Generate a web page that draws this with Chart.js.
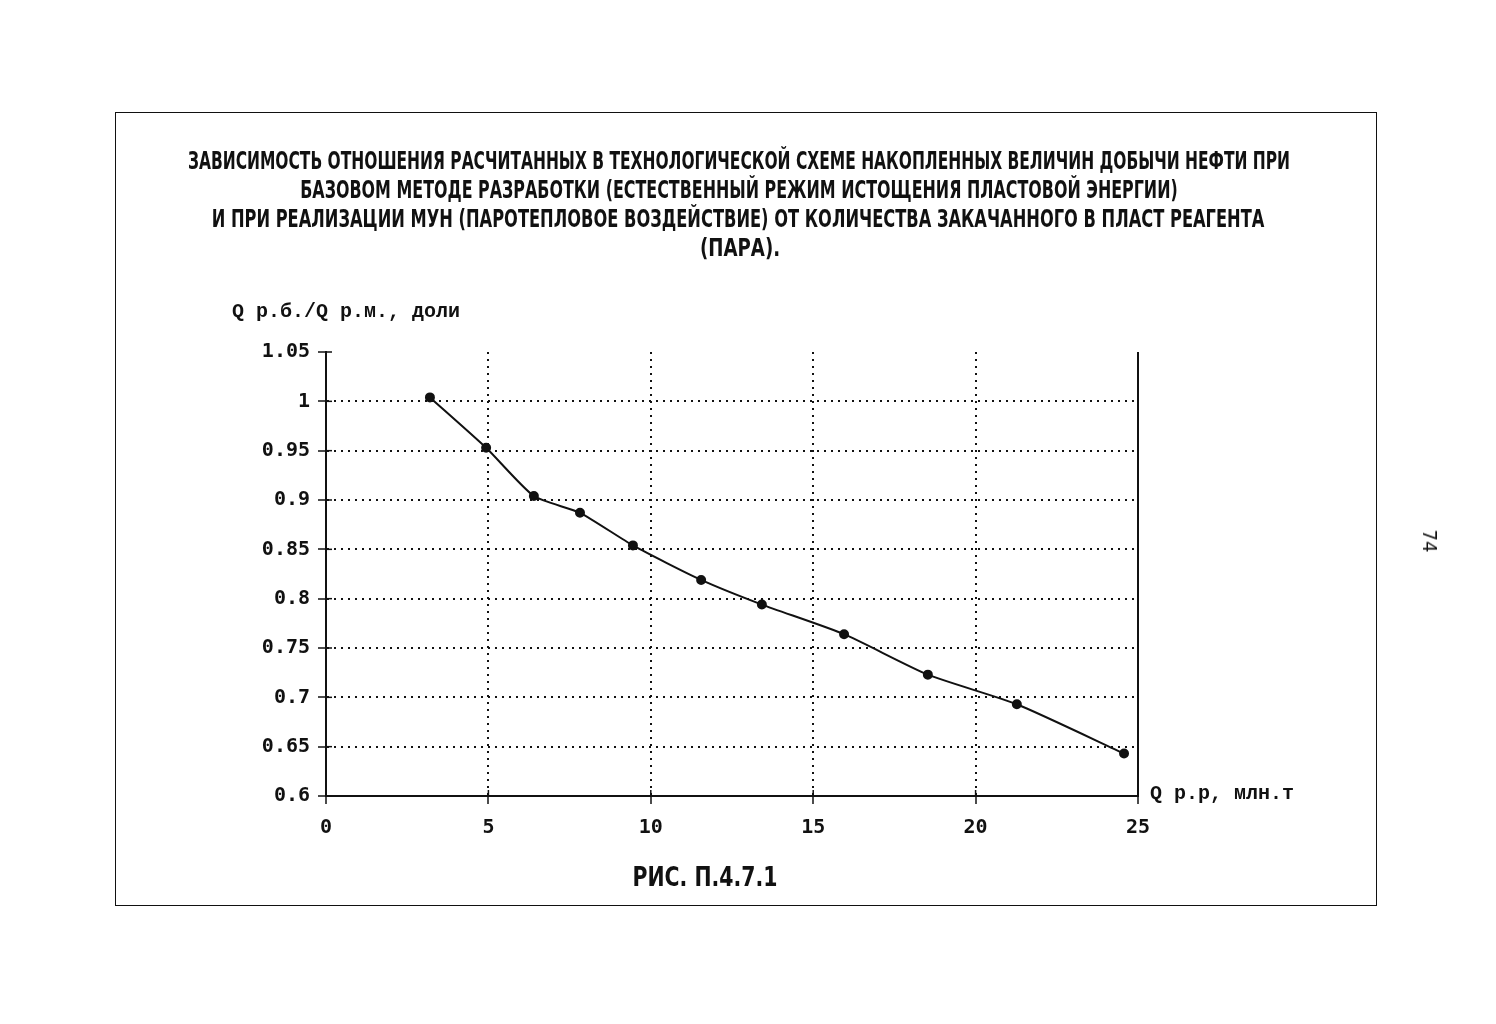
<!DOCTYPE html>
<html>
<head>
<meta charset="utf-8">
<script src="https://cdn.jsdelivr.net/npm/chart.js@4/dist/chart.umd.min.js"></script>
<style>
  html, body { margin: 0; padding: 0; background: #fff; overflow: hidden; }
  #wrap { position: absolute; left: 0; top: 0; width: 1496px; height: 1024px; }
  #frame { position: absolute; left: 115px; top: 112px; width: 1262px; height: 794px; border: 1.5px solid #111; box-sizing: border-box; }
  .t { position: absolute; white-space: nowrap; color: #111; }
  .title { font-family: "DejaVu Sans Condensed", "DejaVu Sans", sans-serif; font-weight: bold; font-size: 25px; transform-origin: center center; }
  .mono { font-family: "Liberation Mono", "DejaVu Sans Mono", monospace; font-weight: bold; font-size: 20px; }
</style>
</head>
<body>
<div id="wrap">
  <div id="frame"></div>
  <canvas id="c" width="1496" height="1024"></canvas>
</div>
<script>
// ---- data ----
const titleLines = [
  "ЗАВИСИМОСТЬ ОТНОШЕНИЯ РАСЧИТАННЫХ В ТЕХНОЛОГИЧЕСКОЙ СХЕМЕ НАКОПЛЕННЫХ ВЕЛИЧИН ДОБЫЧИ НЕФТИ ПРИ",
  "БАЗОВОМ МЕТОДЕ РАЗРАБОТКИ (ЕСТЕСТВЕННЫЙ РЕЖИМ ИСТОЩЕНИЯ ПЛАСТОВОЙ ЭНЕРГИИ)",
  "И ПРИ РЕАЛИЗАЦИИ МУН (ПАРОТЕПЛОВОЕ ВОЗДЕЙСТВИЕ) ОТ КОЛИЧЕСТВА ЗАКАЧАННОГО В ПЛАСТ РЕАГЕНТА",
  "(ПАРА)."
];
const yAxisTitle = "Q р.б./Q р.м., доли";
const xAxisTitle = "Q р.р, млн.т";
const captionText = "РИС. П.4.7.1";
const pageNumber = "74";

const xValues = [3.2, 4.93, 6.4, 7.82, 9.45, 11.55, 13.42, 15.95, 18.53, 21.27, 24.57];
const yValues = [1.004, 0.953, 0.904, 0.887, 0.854, 0.819, 0.794, 0.764, 0.723, 0.693, 0.643];

const xMin = 0, xMax = 25, xStep = 5;
const yMin = 0.6, yMax = 1.05, yStep = 0.05;

// ---- text overlays ----
const wrap = document.getElementById('wrap');
function addText(text, cls, cx, cy, extra) {
  const d = document.createElement('div');
  d.className = 't ' + cls;
  d.textContent = text;
  wrap.appendChild(d);
  d.style.left = cx + 'px';
  d.style.top = cy + 'px';
  d.style.transform = 'translate(-50%,-50%)' + (extra || '');
  return d;
}
function fitWidth(d, target) {
  const s = target / d.offsetWidth;
  d.style.transform = 'translate(-50%,-50%) scaleX(' + s.toFixed(3) + ')';
}
const titleY = [160, 189, 218, 247];
const titleX = [739, 739, 738, 740];
const titleW = [1102, 878, 1053, 80];
titleLines.forEach((s, i) => fitWidth(addText(s, 'title', titleX[i], titleY[i]), titleW[i]));

const cap = addText(captionText, 'title', 705, 877);
cap.style.fontSize = '26px';
fitWidth(cap, 145);

const yt = document.createElement('div');
yt.className = 't mono'; yt.textContent = yAxisTitle;
yt.style.left = '232px'; yt.style.top = '300px';
wrap.appendChild(yt);

const xt = document.createElement('div');
xt.className = 't mono'; xt.textContent = xAxisTitle;
xt.style.left = '1150px'; xt.style.top = '782px';
wrap.appendChild(xt);

const pn = addText(pageNumber, 'title', 1430, 541, ' rotate(90deg)');
pn.style.fontSize = '20px';
pn.style.fontWeight = 'normal';

// ---- chart ----
const frameLines = {
  id: 'frameLines',
  afterDraw(chart) {
    const {ctx} = chart;
    const xs = chart.scales.x, ys = chart.scales.y;
    ctx.save();
    ctx.strokeStyle = '#111';
    ctx.lineWidth = 2;
    const xr = xs.getPixelForValue(xMax);
    ctx.beginPath();
    ctx.moveTo(xr, ys.getPixelForValue(yMax));
    ctx.lineTo(xr, ys.getPixelForValue(yMin));
    ctx.stroke();
    // inward tick stubs
    ctx.lineWidth = 1.5;
    ys.ticks.forEach(t => {
      const py = ys.getPixelForValue(t.value);
      ctx.beginPath(); ctx.moveTo(xs.left, py); ctx.lineTo(xs.left + 6, py); ctx.stroke();
    });
    xs.ticks.forEach(t => {
      const px = xs.getPixelForValue(t.value);
      ctx.beginPath(); ctx.moveTo(px, ys.bottom); ctx.lineTo(px, ys.bottom - 6); ctx.stroke();
    });
    ctx.restore();
  }
};

const tickFont = { family: '"DejaVu Sans Mono", "Liberation Mono", monospace', size: 20, weight: 'bold' };

new Chart(document.getElementById('c'), {
  type: 'scatter',
  data: {
    datasets: [{
      data: xValues.map((x, i) => ({x: x, y: yValues[i]})),
      showLine: true,
      borderColor: '#111',
      backgroundColor: '#111',
      borderWidth: 2,
      pointRadius: 4,
      pointHoverRadius: 4,
      tension: 0.2
    }]
  },
  options: {
    responsive: false,
    animation: false,
    events: [],
    layout: { padding: { left: 246, right: 358, top: 352, bottom: 178 } },
    plugins: { legend: { display: false }, tooltip: { enabled: false }, title: { display: false } },
    scales: {
      x: {
        type: 'linear', min: xMin, max: xMax,
        afterFit(s) { s.height = 50; },
        ticks: { stepSize: xStep, color: '#111', font: tickFont, padding: 12 },
        grid: {
          color: ctx => (ctx.tick && (ctx.tick.value === xMin || ctx.tick.value === xMax)) ? 'rgba(0,0,0,0)' : '#111',
          lineWidth: 2, tickLength: 8, tickColor: '#111', tickWidth: 1.5
        },
        border: { display: true, color: '#111', width: 2, dash: [2, 5] }
      },
      y: {
        type: 'linear', min: yMin, max: yMax,
        afterFit(s) { s.width = 80; },
        ticks: {
          stepSize: yStep, color: '#111', font: tickFont, padding: 8,
          callback: v => String(Number(v.toFixed(2)))
        },
        grid: {
          color: ctx => (ctx.tick && (Math.abs(ctx.tick.value - yMax) < 1e-6 || Math.abs(ctx.tick.value - yMin) < 1e-6)) ? 'rgba(0,0,0,0)' : '#111',
          lineWidth: 2, tickLength: 8, tickColor: '#111', tickWidth: 1.5
        },
        border: { display: true, color: '#111', width: 2, dash: [2, 5] }
      }
    }
  },
  plugins: [frameLines]
});
</script>
</body>
</html>
